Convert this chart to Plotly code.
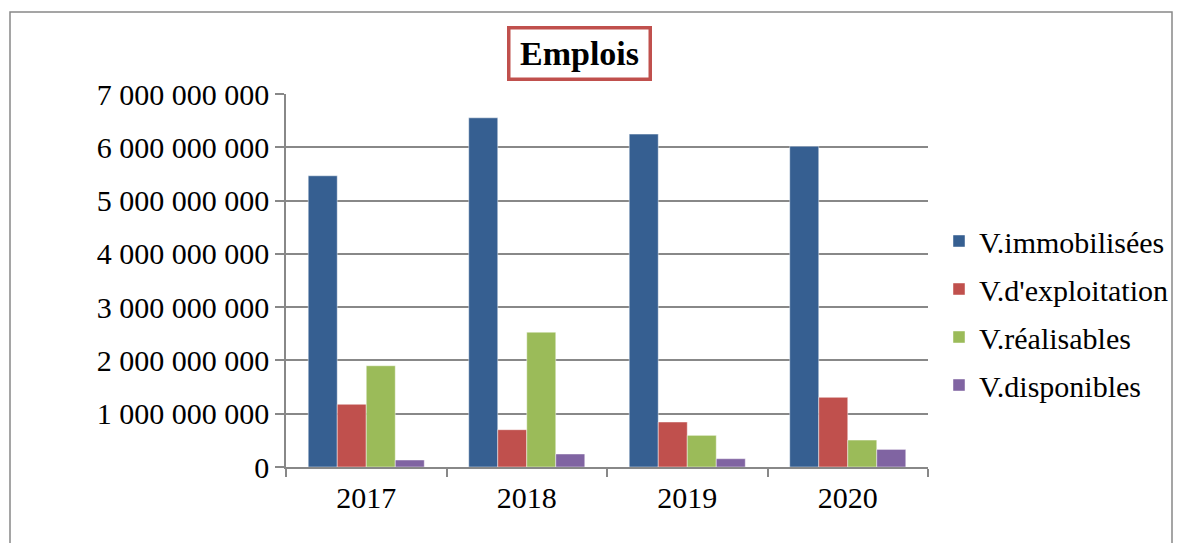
import plotly.graph_objects as go

years = ["2017", "2018", "2019", "2020"]
immobilisees = [5.465e9, 6.553e9, 6.247e9, 6.02e9]
exploitation = [1.176e9, 0.70e9, 0.844e9, 1.307e9]
realisables = [1.90e9, 2.53e9, 0.594e9, 0.506e9]
disponibles = [0.131e9, 0.244e9, 0.156e9, 0.33e9]

names = ["V.immobilisées", "V.d'exploitation", "V.réalisables", "V.disponibles"]
colors = ["#365F91", "#C0504D", "#9BBB59", "#8064A2"]
series = [immobilisees, exploitation, realisables, disponibles]

W, H = 1181, 543
OFF = 8  # page body margin
L, R, T, B = 286, 928, 94, 467  # plot area in screen coords

fig = go.Figure()
for i, (n, c, v) in enumerate(zip(names, colors, series)):
    fig.add_trace(go.Bar(
        x=years, y=v, name=n, legendgroup=n,
        marker=dict(color=c, line=dict(color="rgba(255,255,255,0.45)", width=1)),
    ))

font_family = "Liberation Serif, Times New Roman, serif"

def px_x(p):
    return (p - L) / (R - L)

def px_y(p):
    return (B - p) / (B - T)

fig.update_layout(
    width=W, height=H,
    margin=dict(l=L - OFF, r=W - (R - OFF), t=T - OFF, b=H - (B - OFF), pad=0),
    paper_bgcolor="white", plot_bgcolor="white",
    barmode="group", bargap=0.277, bargroupgap=0,
    separators=". ",
    font=dict(family=font_family, size=30, color="black"),
    showlegend=True,
    legend=dict(
        x=px_x(939), y=px_y(215), xanchor="left", yanchor="top",
        font=dict(family=font_family, size=30, color="black"),
        traceorder="grouped", tracegroupgap=6,
        itemwidth=30, bgcolor="rgba(0,0,0,0)",
    ),
    xaxis=dict(
        showline=True, linecolor="#888888", linewidth=1.5,
        ticks="outside", tickson="boundaries", ticklen=8, tickcolor="#888888", tickwidth=1.5,
        showgrid=False,
        tickfont=dict(family=font_family, size=30, color="black"),
        ticklabelstandoff=3,
    ),
    yaxis=dict(
        range=[0, 7e9], dtick=1e9, tick0=0,
        tickformat=",d",
        showline=True, linecolor="#888888", linewidth=1.5,
        ticks="outside", ticklen=9, tickcolor="#888888", tickwidth=1.5,
        showgrid=True, gridcolor="#888888", gridwidth=1.6,
        zeroline=False,
        tickfont=dict(family=font_family, size=30, color="black"),
        ticklabelstandoff=0,
    ),
    shapes=[
        dict(type="rect", xref="paper", yref="paper",
             x0=px_x(10), x1=px_x(1172), y0=px_y(560), y1=px_y(12),
             line=dict(color="#888888", width=1.5), fillcolor="rgba(0,0,0,0)", layer="below"),
    ],
    annotations=[
        dict(text="<b>Emplois</b>", xref="paper", yref="paper",
             x=px_x(579.5), y=px_y(54), xanchor="center", yanchor="middle",
             showarrow=False, font=dict(family=font_family, size=34, color="black"),
             bordercolor="#C0504D", borderwidth=3.5, borderpad=4,
             bgcolor="white", width=130, height=40),
    ],
)

fig.write_html("out.html")
